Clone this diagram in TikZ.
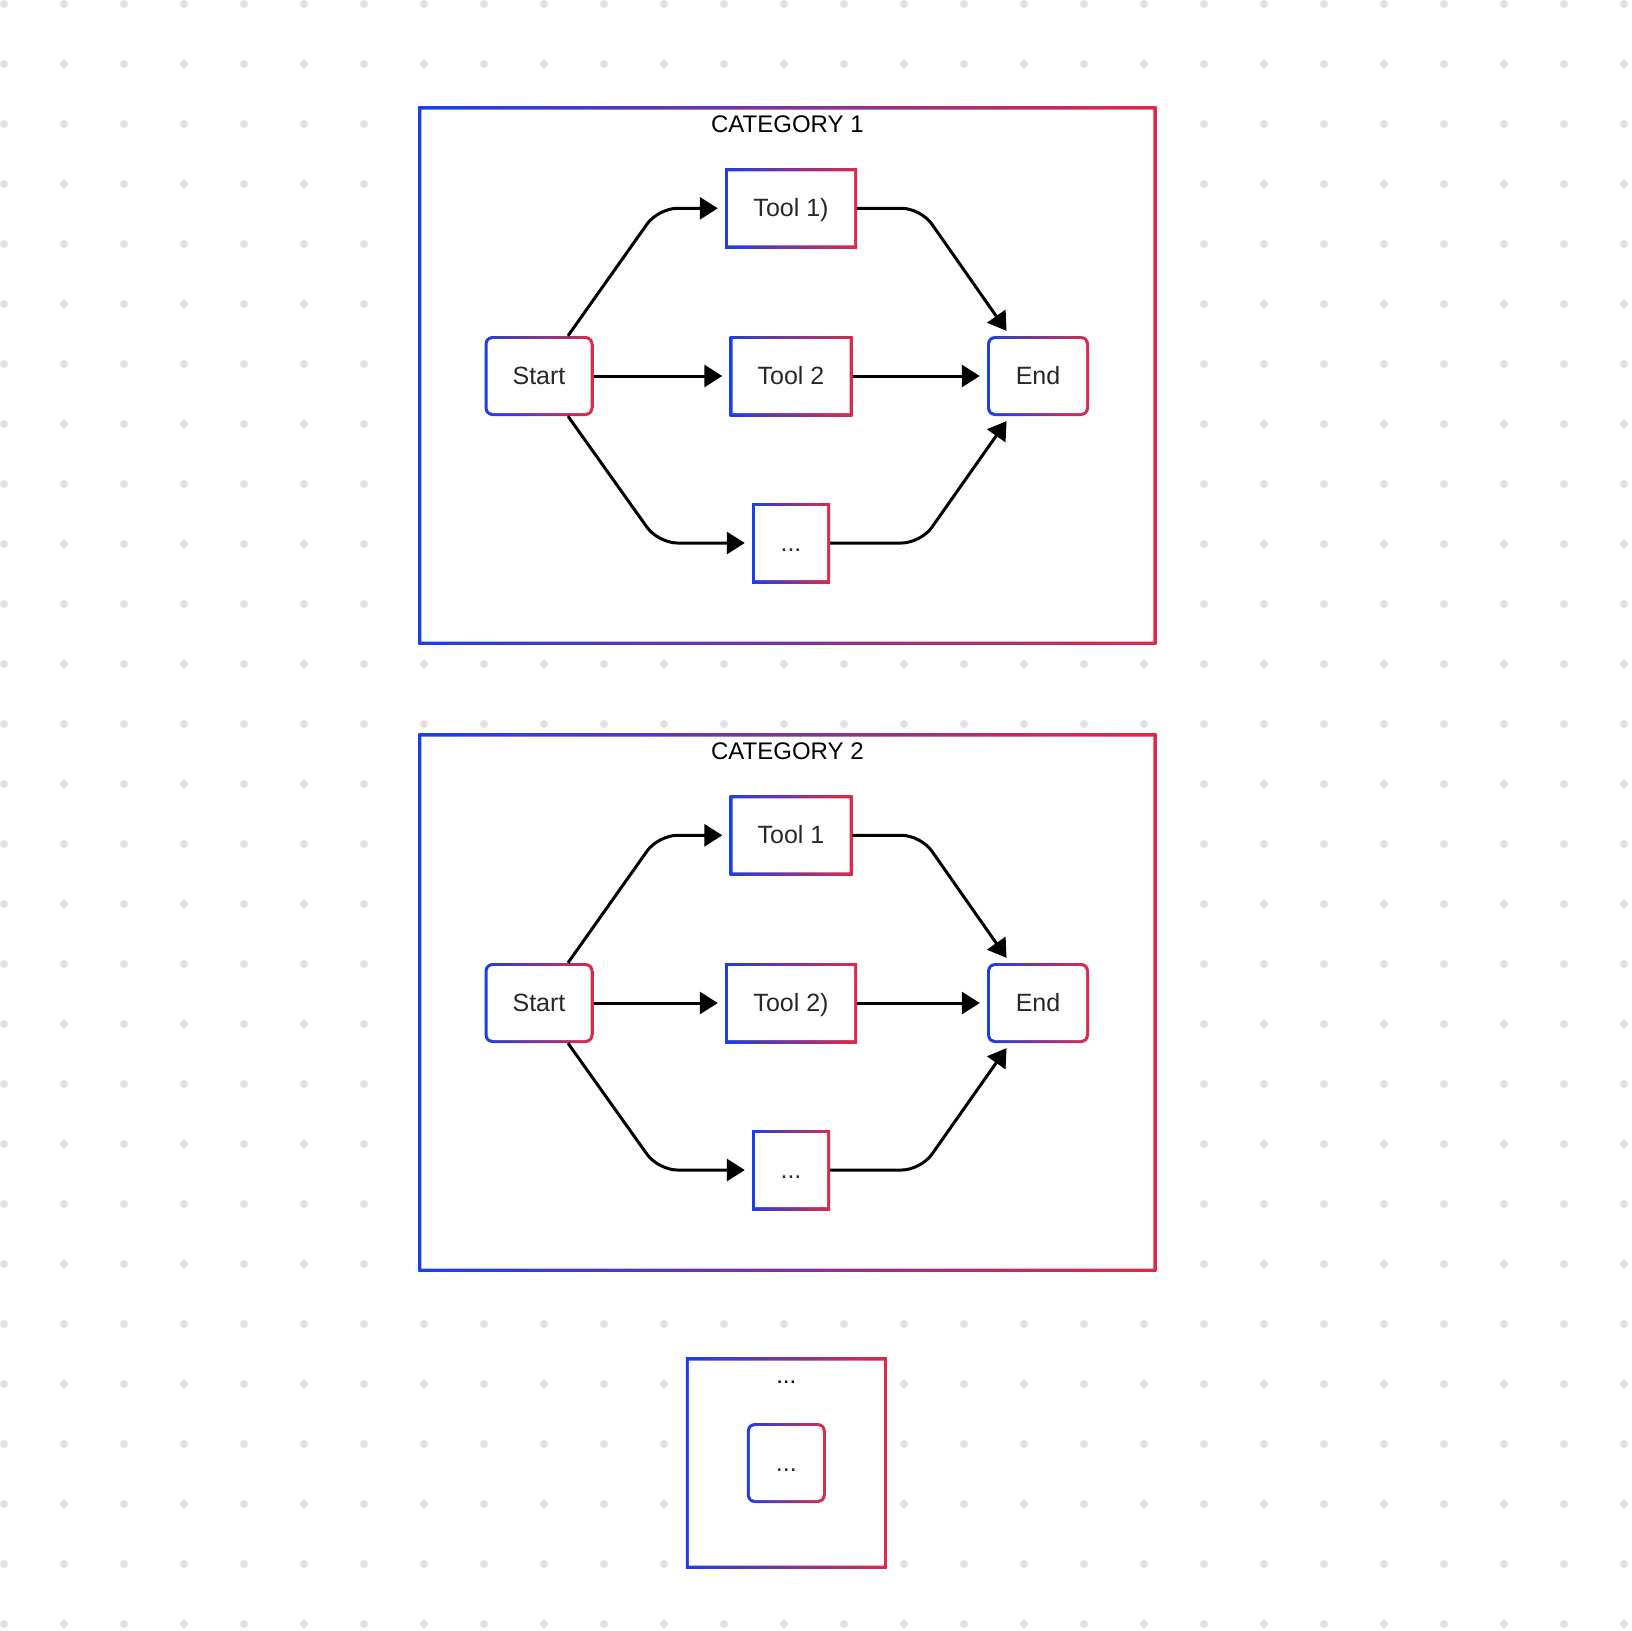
\documentclass[tikz,border=0pt]{standalone}
\usepackage{fontspec}
\setmainfont{Liberation Sans}
\usetikzlibrary{arrows.meta}
\definecolor{cblue}{RGB}{28,62,232}
\definecolor{cred}{RGB}{222,42,72}
\definecolor{dotgray}{RGB}{226,226,230}
\definecolor{labelgray}{RGB}{40,40,40}
\tikzset{
  gradbox/.style={inner sep=0pt, inner xsep=20pt, minimum height=80pt,
    text height=22.6pt, text depth=5.3pt, text=labelgray,
    font=\fontsize{25}{30}\selectfont,
    path picture={
      \shade[left color=cblue, right color=cred]
        (path picture bounding box.south west) rectangle (path picture bounding box.north east);
      \fill[white, rounded corners=#1]
        ([shift={(3pt,-3pt)}]path picture bounding box.north west) rectangle
        ([shift={(-3pt,3pt)}]path picture bounding box.south east);
    }},
  gradbox/.default=0.1pt,
  endbox/.style={gradbox=5pt, rounded corners=8pt},
  framebox/.style={gradbox, inner xsep=0pt},
  title/.style={anchor=base, font=\fontsize{24}{29}\selectfont},
  arr/.style={line width=3pt, -{Triangle[length=18pt,width=22pt]}, rounded corners=19pt, shorten >=7pt},
}
\begin{document}
\begin{tikzpicture}[x=1pt,y=-1pt]
\useasboundingbox (0,0) rectangle (1632,1630);
\fill[white] (0,0) rectangle (1632,1630);
\foreach \i in {0,...,27}
  \foreach \j in {0,...,27}
    \fill[dotgray] (4+60*\i,4+60*\j) circle (4pt);

\node[framebox, minimum width=738pt, minimum height=538pt] (catA) at (787.4,375.5) {};
\node[title] (titleA) at ([yshift=-26pt]catA.north) {CATEGORY 1};
\node[endbox, minimum width=109pt] (startA) at (539,376) {Start};
\node[gradbox, minimum width=132pt] (toolA1) at (791,208.3) {Tool 1)};
\node[gradbox, minimum width=123pt] (toolA2) at (791,376) {Tool 2};
\node[gradbox, minimum width=78pt] (moreA) at (791,543) {...};
\node[endbox, minimum width=102pt] (endA) at (1038,376) {End};
\draw[arr] ([xshift=29pt]startA.north) -- ([xshift=64.5pt]toolA1.west -| startA.east) -- (toolA1.west);
\draw[arr] (startA.east) -- (toolA2.west);
\draw[arr] ([xshift=29pt]startA.south) -- ([xshift=64.5pt]moreA.west -| startA.east) -- (moreA.west);
\draw[arr, shorten >=6pt] (toolA1.east) -- ([xshift=-66pt]toolA1.east -| endA.west) -- ([xshift=-28pt]endA.north);
\draw[arr] (toolA2.east) -- (endA.west);
\draw[arr, shorten >=6pt] (moreA.east) -- ([xshift=-66pt]moreA.east -| endA.west) -- ([xshift=-28pt]endA.south);

\node[framebox, minimum width=738pt, minimum height=538pt] (catB) at (787.4,1002.5) {};
\node[title] (titleB) at ([yshift=-26pt]catB.north) {CATEGORY 2};
\node[endbox, minimum width=109pt] (startB) at (539,1003) {Start};
\node[gradbox, minimum width=123pt] (toolB1) at (791,835.3) {Tool 1};
\node[gradbox, minimum width=132pt] (toolB2) at (791,1003) {Tool 2)};
\node[gradbox, minimum width=78pt] (moreB) at (791,1170) {...};
\node[endbox, minimum width=102pt] (endB) at (1038,1003) {End};
\draw[arr] ([xshift=29pt]startB.north) -- ([xshift=64.5pt]toolB1.west -| startB.east) -- (toolB1.west);
\draw[arr] (startB.east) -- (toolB2.west);
\draw[arr] ([xshift=29pt]startB.south) -- ([xshift=64.5pt]moreB.west -| startB.east) -- (moreB.west);
\draw[arr, shorten >=6pt] (toolB1.east) -- ([xshift=-66pt]toolB1.east -| endB.west) -- ([xshift=-28pt]endB.north);
\draw[arr] (toolB2.east) -- (endB.west);
\draw[arr, shorten >=6pt] (moreB.east) -- ([xshift=-66pt]moreB.east -| endB.west) -- ([xshift=-28pt]endB.south);

\node[framebox, minimum width=201pt, minimum height=211pt] (catC) at (786.3,1463.2) {};
\node[title] (titleC) at ([yshift=-25.5pt]catC.north) {...};
\node[endbox, minimum width=79pt] (moreC) at (786.3,1463) {...};
\end{tikzpicture}
\end{document}
